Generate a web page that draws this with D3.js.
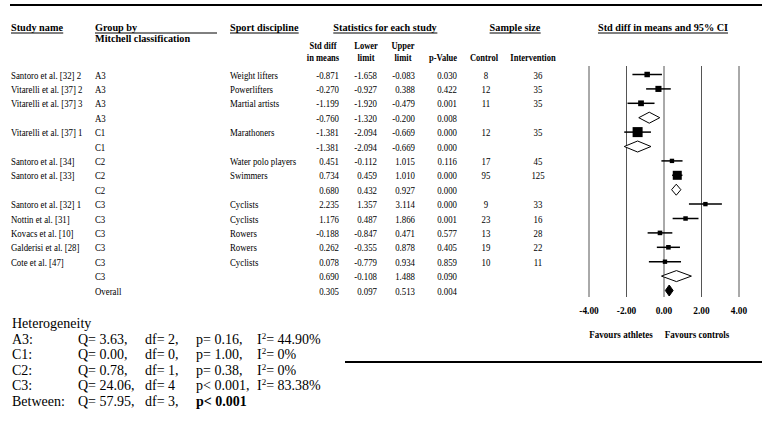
<!DOCTYPE html>
<html><head><meta charset="utf-8">
<script src="https://cdn.jsdelivr.net/npm/d3@7"></script>
<style>html,body{margin:0;padding:0;background:#fff;}svg{display:block;}</style>
</head><body>
<script>
// ---------- data ----------
const studies = ["Santoro et al. [32] 2","Vitarelli et al. [37] 2","Vitarelli et al. [37] 3","","Vitarelli et al. [37] 1","","Santoro et al. [34]","Santoro et al. [33]","","Santoro et al. [32] 1","Nottin et al. [31]","Kovacs et al. [10]","Galderisi et al. [28]","Cote et al. [47]","",""];
const groups = ["A3","A3","A3","A3","C1","C1","C2","C2","C2","C3","C3","C3","C3","C3","C3","Overall"];
const sports = ["Weight lifters","Powerlifters","Martial artists","","Marathoners","","Water polo players","Swimmers","","Cyclists","Cyclists","Rowers","Rowers","Cyclists","",""];
const stdDiff = [-0.871,-0.270,-1.199,-0.760,-1.381,-1.381,0.451,0.734,0.680,2.235,1.176,-0.188,0.262,0.078,0.690,0.305];
const lowerLimit = [-1.658,-0.927,-1.920,-1.320,-2.094,-2.094,-0.112,0.459,0.432,1.357,0.487,-0.847,-0.355,-0.779,-0.108,0.097];
const upperLimit = [-0.083,0.388,-0.479,-0.200,-0.669,-0.669,1.015,1.010,0.927,3.114,1.866,0.471,0.878,0.934,1.488,0.513];
const pValues = ["0.030","0.422","0.001","0.008","0.000","0.000","0.116","0.000","0.000","0.000","0.001","0.577","0.405","0.859","0.090","0.004"];
const control = [8,12,11,null,12,null,17,95,null,9,23,13,19,10,null,null];
const intervention = [36,35,35,null,35,null,45,125,null,33,16,28,22,11,null,null];
const relWeight = [30,37,33,null,100,null,19,81,null,19,20,21,21,19,null,null];
const axisTicks = [-4,-2,0,2,4];
const hetLabels = ["A3:","C1:","C2:","C3:","Between:"];
const hetQ = ["Q= 3.63,","Q= 0.00,","Q= 0.78,","Q= 24.06,","Q= 57.95,"];
const hetDf = ["df= 2,","df= 0,","df= 1,","df= 4","df= 3,"];
const hetP = ["p= 0.16,","p= 1.00,","p= 0.38,","p< 0.001,","p< 0.001"];
const hetI2 = ["= 44.90%","= 0%","= 0%","= 83.38%",null];

// ---------- drawing ----------
const W = 771, H = 429;
const FONT = "'Liberation Serif','Times New Roman',serif";
const svg = d3.select("body").append("svg").attr("width", W).attr("height", H)
  .style("font-family", FONT);
svg.append("rect").attr("width", W).attr("height", H).attr("fill", "#fff");

function txt(x, y, s, o = {}) {
  const t = svg.append("text")
    .attr("transform", `translate(${x},${y}) scale(${o.sx ?? 0.8},1)`)
    .attr("text-anchor", o.anchor || "start")
    .attr("font-size", o.size || 11)
    .attr("font-weight", o.bold ? "bold" : "normal")
    .attr("fill", "#000")
    .text(s);
  return t;
}
function underline(t, y, x0, x1) {
  const b = t.node().getBoundingClientRect();
  svg.append("line").attr("x1", x0 ?? b.left).attr("x2", x1 ?? b.right)
    .attr("y1", y).attr("y2", y).attr("stroke", "#000").attr("stroke-width", 1);
}

// top & bottom rules
svg.append("line").attr("x1", 10).attr("x2", 762).attr("y1", 5).attr("y2", 5).attr("stroke", "#000").attr("stroke-width", 2);
svg.append("line").attr("x1", 345).attr("x2", 762).attr("y1", 362).attr("y2", 362).attr("stroke", "#000").attr("stroke-width", 2);

// column positions
const col = { study: 11, group: 95, sport: 230, sd: 339, lo: 377, up: 415, p: 457, ctl: 486, int: 538 };
const hY = 31, hU = 33;
underline(txt(col.study, hY, "Study name", { bold: true, sx: 0.93 }), hU);
txt(col.group, hY, "Group by", { bold: true, sx: 0.93 });
underline({ node: () => ({ getBoundingClientRect: () => ({}) }) }, hU, col.group, 217);
txt(col.group, 42, "Mitchell classification", { bold: true, sx: 0.93 });
underline(txt(col.sport, hY, "Sport discipline", { bold: true, sx: 0.93 }), hU);
underline(txt(385, hY, "Statistics for each study", { bold: true, sx: 0.93, anchor: "middle" }), hU);
underline(txt(515, hY, "Sample size", { bold: true, sx: 0.93, anchor: "middle" }), hU);
underline(txt(663, hY, "Std diff in means and 95% CI", { bold: true, sx: 0.93, anchor: "middle" }), hU);

const sh = { bold: true, size: 10, sx: 0.85, anchor: "middle" };
txt(323, 49, "Std diff", sh); txt(323, 61, "in means", sh);
txt(366, 49, "Lower", sh); txt(366, 61, "limit", sh);
txt(403, 49, "Upper", sh); txt(403, 61, "limit", sh);
txt(443, 61, "p-Value", sh);
txt(484, 61, "Control", sh);
txt(533, 61, "Intervention", sh);

// scales
const n = studies.length;
const y = d3.scaleLinear().domain([0, n - 1]).range([74.5, 290.5]);
const x = d3.scaleLinear().domain([-4, 4]).range([588.5, 738.5]);
const size = d3.scaleSqrt().domain([0, 100]).range([0, 10]);
const fmt = v => v.toFixed(3);

// table rows
for (let i = 0; i < n; i++) {
  const yb = y(i) + 4;
  if (studies[i]) txt(col.study, yb, studies[i]);
  txt(col.group, yb, groups[i]);
  if (sports[i]) txt(col.sport, yb, sports[i]);
  txt(col.sd, yb, fmt(stdDiff[i]), { anchor: "end" });
  txt(col.lo, yb, fmt(lowerLimit[i]), { anchor: "end" });
  txt(col.up, yb, fmt(upperLimit[i]), { anchor: "end" });
  txt(col.p, yb, pValues[i], { anchor: "end" });
  if (control[i] != null) txt(col.ctl, yb, String(control[i]), { anchor: "middle" });
  if (intervention[i] != null) txt(col.int, yb, String(intervention[i]), { anchor: "middle" });
}

// forest plot axis with vertical reference lines
const axisY = 297, axisTop = 66;
const axisG = svg.append("g").attr("transform", `translate(0,${axisY})`)
  .call(d3.axisBottom(x).tickValues(axisTicks).tickSizeInner(-(axisY - axisTop)).tickSizeOuter(0)
    .tickPadding(9).tickFormat(d => d.toFixed(2)));
axisG.select(".domain").remove();
axisG.selectAll(".tick line").attr("stroke", "#555").attr("stroke-width", 1);
axisG.selectAll(".tick text").attr("font-family", FONT).attr("font-size", 11).attr("font-weight", "bold")
  .attr("fill", "#000").attr("transform", "scale(0.85,1)");

txt(621, 338, "Favours athletes", { bold: true, sx: 0.82, anchor: "middle" });
txt(697, 338, "Favours controls", { bold: true, sx: 0.82, anchor: "middle" });

// marks
const plot = svg.append("g");
for (let i = 0; i < n; i++) {
  const yc = y(i);
  if (studies[i]) {
    plot.append("line").attr("x1", x(lowerLimit[i])).attr("x2", x(upperLimit[i]))
      .attr("y1", yc).attr("y2", yc).attr("stroke", "#000").attr("stroke-width", 1.5);
    const s = size(relWeight[i]);
    plot.append("rect").attr("x", x(stdDiff[i]) - s / 2).attr("y", yc - s / 2)
      .attr("width", s).attr("height", s).attr("fill", "#000");
  } else {
    const h = 5.5;
    const pts = [[x(lowerLimit[i]), yc], [x(stdDiff[i]), yc - h], [x(upperLimit[i]), yc], [x(stdDiff[i]), yc + h]];
    const overall = groups[i] === "Overall";
    plot.append("polygon").attr("points", pts.map(p => p.join(",")).join(" "))
      .attr("fill", overall ? "#000" : "#fff").attr("stroke", "#000").attr("stroke-width", 1);
  }
}

// heterogeneity block
const hetFont = 14;
function htxt(xp, yp, s, bold) {
  return svg.append("text").attr("x", xp).attr("y", yp).attr("font-size", hetFont)
    .attr("font-weight", bold ? "bold" : "normal").attr("fill", "#000").text(s);
}
htxt(12, 328, "Heterogeneity");
hetLabels.forEach((lab, k) => {
  const yb = 343.5 + k * 15.5;
  htxt(12, yb, lab);
  htxt(78, yb, hetQ[k]);
  htxt(145, yb, hetDf[k]);
  htxt(196, yb, hetP[k], k === hetLabels.length - 1);
  if (hetI2[k]) {
    const t = htxt(257, yb, "I");
    t.append("tspan").attr("font-size", 9).attr("dy", -5).text("2");
    t.append("tspan").attr("dy", 5).text(hetI2[k]);
  }
});
</script>
</body></html>
